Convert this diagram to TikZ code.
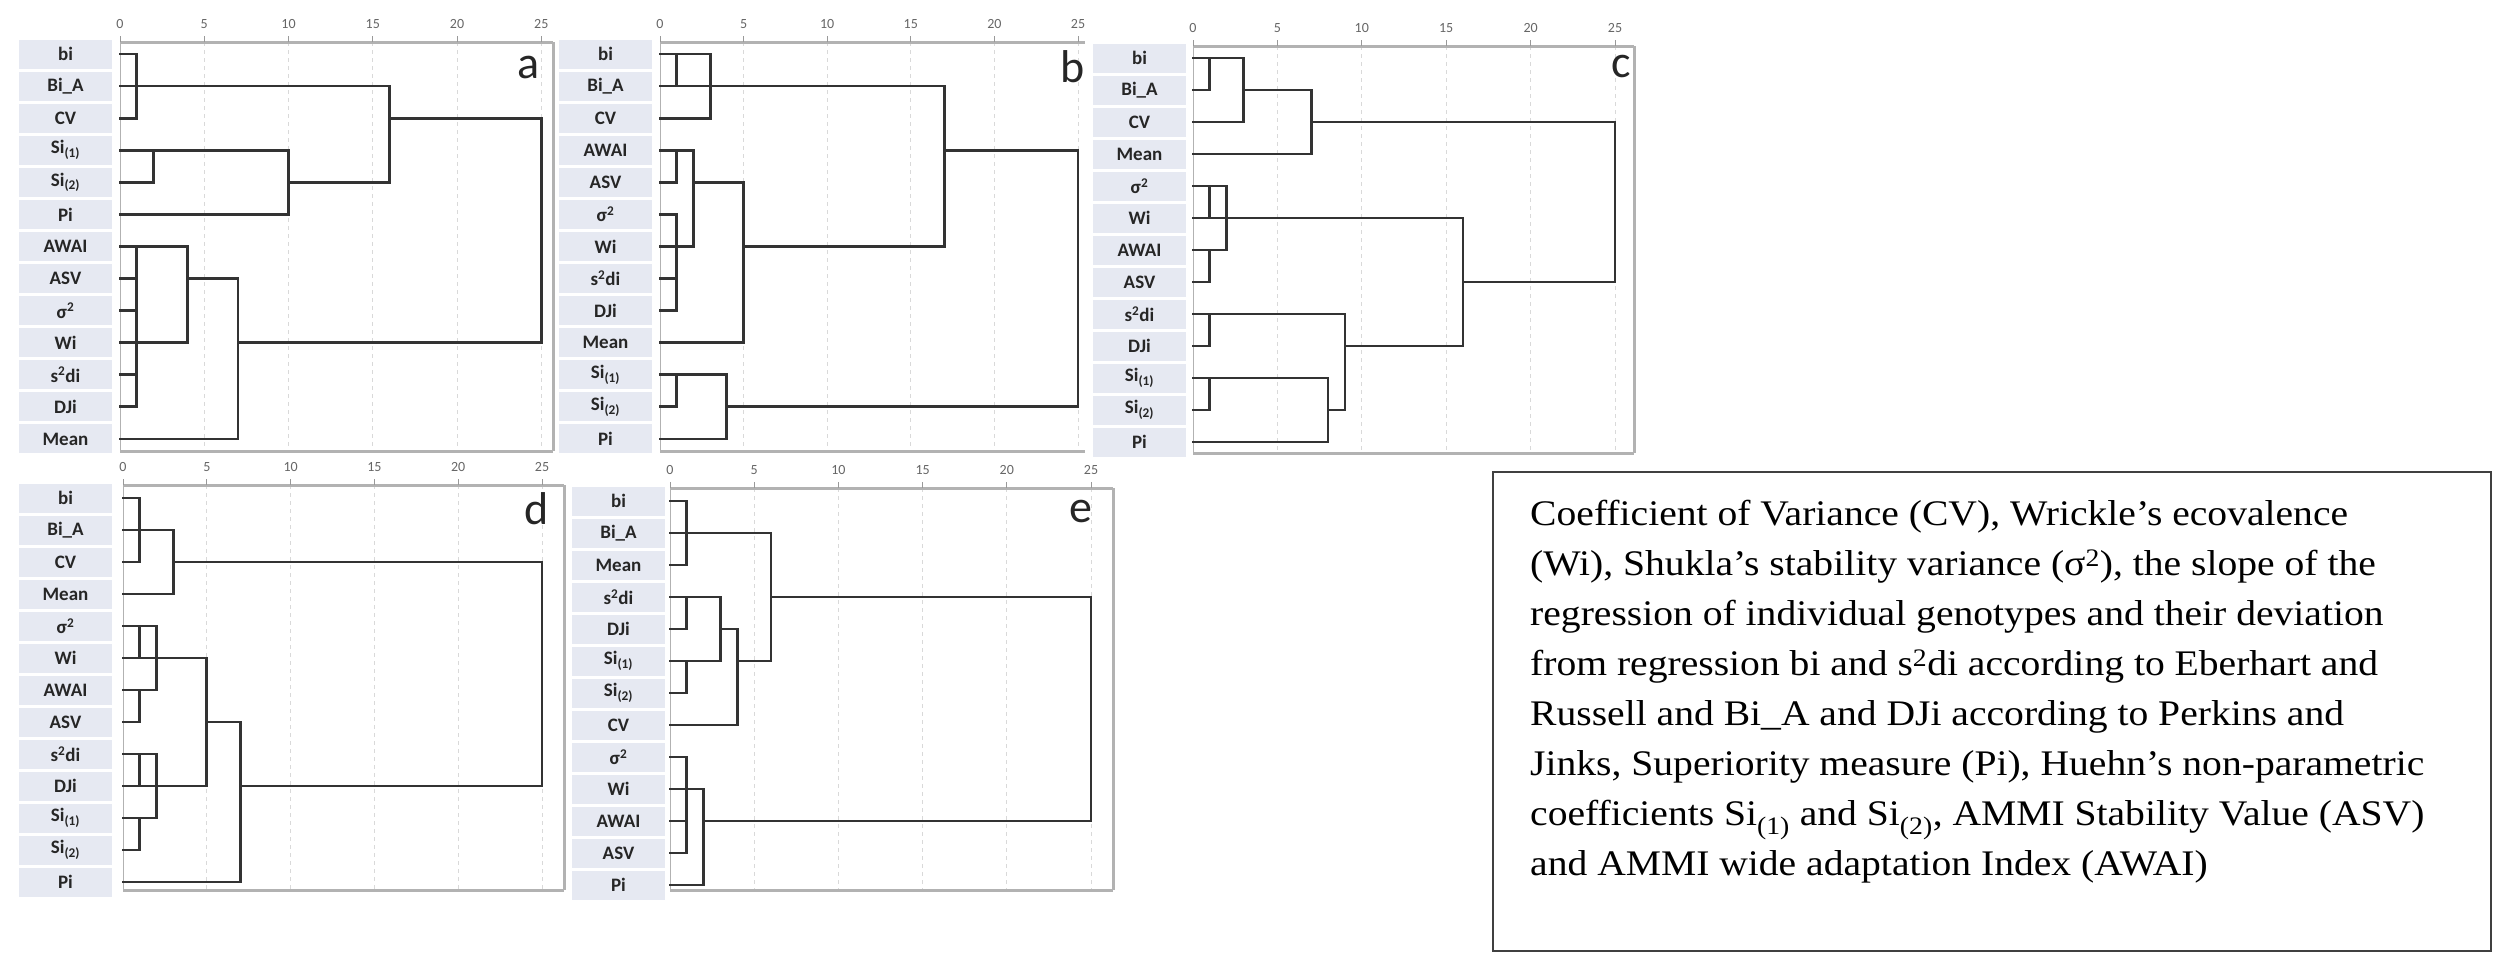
\documentclass[tikz,border=0pt]{standalone}
\usepackage{fontspec}
\setmainfont{Liberation Serif}
\newfontfamily\legf[FakeStretch=1.1]{Liberation Serif}
\newfontfamily\labf{Carlito}
\definecolor{lav}{HTML}{E6E9F2}
\newcommand\dpanel[6]{%
 \foreach \k in {5,10,...,25} \draw[gridl] ({#1+\k*#2},#3) -- ({#1+\k*#2},#4);
 \draw[axl] (#1,#3) -- (#5,#3);
 \draw[axl] (#1,#4) -- (#5,#4);
 \draw[line width=1pt,black!30] (#1,#3) -- (#1,#4);
 \foreach \k in {0,5,...,25} {\draw[line width=1pt,black!40] ({#1+\k*#2},#3) -- ({#1+\k*#2},{#3-6});
   \node[num] (#6n\k) at ({#1+\k*#2},{#3-18}) {\k};}
}
\newcommand\dlabels[3]{%
 \foreach \i/\t in {#3} \node[lab,xshift=#2pt] (#1l\i) at (0,\i) {\t};
}
\begin{document}
\begin{tikzpicture}[x=1pt,y=-1pt,
 dl/.style={line width=2.8pt,draw=black!80,line cap=rect},
 axl/.style={line width=3pt,draw=black!30},
 gridl/.style={line width=0.8pt,draw=black!15,dash pattern=on 4pt off 4pt},
 lab/.style={fill=lav,minimum width=93pt,minimum height=29pt,inner sep=0pt,font=\labf\bfseries\fontsize{19}{19}\selectfont,text=black!85},
 num/.style={font=\labf\fontsize{14}{14}\selectfont,text=black!60},
 let/.style={font=\labf\fontsize{46}{46}\selectfont,text=black!85}]
\useasboundingbox (0,0) rectangle (2512,962);
\fill[white] (0,0) rectangle (2512,962);
% panel frames
\dpanel{120}{16.85}{42}{451}{553}{a}
\draw[axl] (553,42) -- (553,451);
\dpanel{660}{16.72}{42}{451}{1085}{b}
\dpanel{1193}{16.88}{46}{453}{1634}{c}
\draw[axl] (1634,46) -- (1634,453);
\dpanel{123}{16.76}{485}{890}{564}{d}
\draw[axl] (564,485) -- (564,890);
\dpanel{670}{16.84}{488}{890}{1113}{e}
\draw[axl] (1113,488) -- (1113,890);
% panel a
\begin{scope}[shift={(120,21.92)},x=16.85pt,y=-32.08pt]
\dlabels{a}{-54.5}{1/bi,2/Bi\_A,3/CV,4/{Si\textsubscript{(1)}},5/{Si\textsubscript{(2)}},6/Pi,7/AWAI,8/ASV,9/{σ\textsuperscript{2}},10/Wi,11/{s\textsuperscript{2}di},12/DJi,13/Mean}
\draw[dl] (0,1)--(1,1)--(1,3)--(0,3);
\draw[dl] (0,2)--(16,2)--(16,5)--(10,5);
\draw[dl] (0,4)--(10,4)--(10,6)--(0,6);
\draw[dl] (2,4)--(2,5)--(0,5);
\draw[dl] (16,3)--(25,3)--(25,10)--(7,10);
\draw[dl] (0,7)--(4,7)--(4,10)--(0,10);
\draw[dl] (1,7)--(1,12)--(0,12);
\draw[dl] (0,8)--(1,8) (0,9)--(1,9) (0,11)--(1,11);
\draw[dl] (4,8)--(7,8)--(7,13)--(0,13);
\end{scope}
% panel b
\begin{scope}[shift={(660,21.92)},x=16.72pt,y=-32.08pt]
\dlabels{b}{-54.5}{1/bi,2/Bi\_A,3/CV,4/AWAI,5/ASV,6/{σ\textsuperscript{2}},7/Wi,8/{s\textsuperscript{2}di},9/DJi,10/Mean,11/{Si\textsubscript{(1)}},12/{Si\textsubscript{(2)}},13/Pi}
\draw[dl] (0,1)--(3,1)--(3,3)--(0,3);
\draw[dl] (1,1)--(1,2);
\draw[dl] (0,2)--(17,2)--(17,7)--(5,7);
\draw[dl] (17,4)--(25,4)--(25,12)--(4,12);
\draw[dl] (0,4)--(2,4)--(2,7)--(0,7);
\draw[dl] (1,4)--(1,5)--(0,5);
\draw[dl] (0,6)--(1,6)--(1,9)--(0,9);
\draw[dl] (0,8)--(1,8);
\draw[dl] (2,5)--(5,5)--(5,10)--(0,10);
\draw[dl] (0,11)--(4,11)--(4,13)--(0,13);
\draw[dl] (1,11)--(1,12)--(0,12);
\end{scope}
% panel c
\begin{scope}[shift={(1193,26)},x=16.88pt,y=-32pt]
\dlabels{c}{-53.5}{1/bi,2/Bi\_A,3/CV,4/Mean,5/{σ\textsuperscript{2}},6/Wi,7/AWAI,8/ASV,9/{s\textsuperscript{2}di},10/DJi,11/{Si\textsubscript{(1)}},12/{Si\textsubscript{(2)}},13/Pi}
\draw[dl] (0,1)--(3,1)--(3,3)--(0,3);
\draw[dl] (1,1)--(1,2)--(0,2);
\draw[dl] (3,2)--(7,2)--(7,4)--(0,4);
\draw[dl] (7,3)--(25,3)--(25,8)--(16,8);
\draw[dl] (0,5)--(2,5)--(2,7)--(0,7);
\draw[dl] (1,5)--(1,6);
\draw[dl] (0,6)--(16,6)--(16,10)--(9,10);
\draw[dl] (1,7)--(1,8)--(0,8);
\draw[dl] (0,9)--(9,9)--(9,12)--(8,12);
\draw[dl] (1,9)--(1,10)--(0,10);
\draw[dl] (0,11)--(8,11)--(8,13)--(0,13);
\draw[dl] (1,11)--(1,12)--(0,12);
\end{scope}
% panel d
\begin{scope}[shift={(123,466)},x=16.76pt,y=-32pt]
\dlabels{d}{-57.5}{1/bi,2/Bi\_A,3/CV,4/Mean,5/{σ\textsuperscript{2}},6/Wi,7/AWAI,8/ASV,9/{s\textsuperscript{2}di},10/DJi,11/{Si\textsubscript{(1)}},12/{Si\textsubscript{(2)}},13/Pi}
\draw[dl] (0,1)--(1,1)--(1,3)--(0,3);
\draw[dl] (0,2)--(3,2)--(3,4)--(0,4);
\draw[dl] (3,3)--(25,3)--(25,10)--(7,10);
\draw[dl] (0,5)--(2,5)--(2,7)--(0,7);
\draw[dl] (1,5)--(1,6);
\draw[dl] (0,6)--(5,6)--(5,10)--(0,10);
\draw[dl] (1,7)--(1,8)--(0,8);
\draw[dl] (0,9)--(2,9)--(2,11)--(0,11);
\draw[dl] (1,9)--(1,10);
\draw[dl] (1,11)--(1,12)--(0,12);
\draw[dl] (5,8)--(7,8)--(7,13)--(0,13);
\end{scope}
% panel e
\begin{scope}[shift={(670,469)},x=16.84pt,y=-32pt]
\dlabels{e}{-51.5}{1/bi,2/Bi\_A,3/Mean,4/{s\textsuperscript{2}di},5/DJi,6/{Si\textsubscript{(1)}},7/{Si\textsubscript{(2)}},8/CV,9/{σ\textsuperscript{2}},10/Wi,11/AWAI,12/ASV,13/Pi}
\draw[dl] (0,1)--(1,1)--(1,3)--(0,3);
\draw[dl] (0,2)--(6,2)--(6,6)--(4,6);
\draw[dl] (6,4)--(25,4)--(25,11)--(2,11);
\draw[dl] (0,4)--(3,4)--(3,6)--(0,6);
\draw[dl] (1,4)--(1,5)--(0,5);
\draw[dl] (3,5)--(4,5)--(4,8)--(0,8);
\draw[dl] (1,6)--(1,7)--(0,7);
\draw[dl] (0,9)--(1,9)--(1,12)--(0,12);
\draw[dl] (0,10)--(2,10)--(2,13)--(0,13);
\draw[dl] (0,11)--(1,11);
\end{scope}
% panel letters
\node[let] (la) at (529,67) {a};
\node[let] (lb) at (1073,67) {b};
\node[let] (lc) at (1621,67) {c};
\node[let] (ld) at (537,509) {d};
\node[let] (le) at (1081,511) {e};
% legend box
\draw[line width=2pt,black!75] (1493,472) rectangle (2491,951);
\node[anchor=north west,align=left,inner sep=0pt,font=\legf\fontsize{36}{50}\selectfont] (txt) at (1530,500) {%
Coefficient of Variance (CV), Wrickle’s ecovalence\\
(Wi), Shukla’s stability variance (σ\textsuperscript{2}), the slope of the\\
regression of individual genotypes and their deviation\\
from regression bi and s\textsuperscript{2}di according to Eberhart and\\
Russell and Bi\_A and DJi according to Perkins and\\
Jinks, Superiority measure (Pi), Huehn’s non-parametric\\
coefficients Si\textsubscript{(1)} and Si\textsubscript{(2)}, AMMI Stability Value (ASV)\\
and AMMI wide adaptation Index (AWAI)};
\end{tikzpicture}
\end{document}
